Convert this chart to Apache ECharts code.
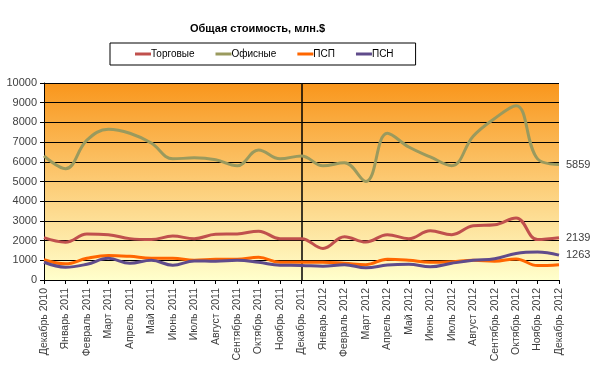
<!DOCTYPE html>
<html><head><meta charset="utf-8">
<script src="https://cdn.jsdelivr.net/npm/echarts@6/dist/echarts.min.js"></script>
<style>html,body{margin:0;padding:0;background:#fff}#c{width:600px;height:368px}</style>
</head><body><div id="c"></div>
<script>
const categories = ['Декабрь 2010','Январь 2011','Февраль 2011','Март 2011','Апрель 2011','Май 2011','Июнь 2011','Июль 2011','Август 2011','Сентябрь 2011','Октябрь 2011','Ноябрь 2011','Декабрь 2011','Январь 2012','Февраль 2012','Март 2012','Апрель 2012','Май 2012','Июнь 2012','Июль 2012','Август 2012','Сентябрь 2012','Октябрь 2012','Ноябрь 2012','Декабрь 2012'];
const torgovye = [2150,1920,2330,2300,2100,2050,2230,2100,2320,2340,2480,2100,2100,1600,2200,1930,2300,2100,2500,2300,2750,2800,3150,2050,2139];
const ofisnye  = [6300,5650,7100,7650,7450,6950,6150,6200,6100,5800,6600,6150,6300,5800,5950,5000,7450,6750,6250,5800,7300,8200,8850,6150,5859];
const psp      = [1030,820,1100,1250,1200,1100,1100,1000,1050,1050,1150,900,900,900,850,780,1050,1000,900,930,1000,950,1070,730,780];
const psn      = [900,650,800,1100,850,1000,750,970,950,1000,900,750,740,700,780,620,760,800,670,850,1000,1080,1350,1420,1263];
const yTicks = [0,1000,2000,3000,4000,5000,6000,7000,8000,9000,10000];
const seriesNames = ['Торговые','Офисные','ПСП','ПСН'];
const colors = ['#C0504D','#9A9A5E','#FF6600','#5F4B8B'];
const font = 'Liberation Sans, Arial, sans-serif';

const chart = echarts.init(document.getElementById('c'));
function mk(name, data, color, endLbl) {
  return {
    name, type: 'line', data, smooth: 0.4, symbol: 'none',
    lineStyle: { width: 3, color }, itemStyle: { color },
    endLabel: { show: endLbl, formatter: p => p.value, color: '#404040', fontSize: 11, fontFamily: font, distance: 7 }
  };
}
chart.setOption({
  animation: false,
  color: colors,
  title: { text: 'Общая стоимость, млн.$', left: 185, top: 18,
    textStyle: { fontSize: 11, fontWeight: 'bold', color: '#000', fontFamily: font } },
  legend: {
    data: seriesNames, left: 110, top: 43,
    borderColor: '#000', borderWidth: 1, backgroundColor: '#fff',
    padding: [6, 22, 6, 25], itemGap: 21, itemWidth: 16, itemHeight: 3, icon: 'rect',
    textStyle: { fontSize: 10, color: '#000', fontFamily: font, padding: [0,0,0,-5] }
  },
  grid: { left: 44, right: 41, top: 83, bottom: 88, show: true, borderWidth: 0,
    backgroundColor: new echarts.graphic.LinearGradient(0,0,0,1,[
      {offset:0,color:'#F9961C'},{offset:1,color:'#FFFFCC'}]) },
  xAxis: {
    type: 'category', data: categories, boundaryGap: false,
    axisLine: { lineStyle: { color: '#000', width: 1 } },
    axisTick: { show: true, length: 4, lineStyle: { color: '#000' }, interval: 0 },
    axisLabel: { rotate: 90, interval: 0, fontSize: 10.5, color: '#404040', fontFamily: font, margin: 8 },
    splitLine: { show: true, interval: (i) => i === 12, lineStyle: { color: '#000', width: 1.5 } }
  },
  yAxis: {
    type: 'value', min: yTicks[0], max: yTicks[yTicks.length-1], interval: 1000,
    axisLine: { show: true, lineStyle: { color: '#000' } },
    axisTick: { show: true, length: 4, lineStyle: { color: '#000' } },
    axisLabel: { fontSize: 11, color: '#404040', fontFamily: font, margin: 7, formatter: v => String(v) },
    splitLine: { show: true, lineStyle: { color: '#000', width: 1 } }
  },
  series: [
    mk(seriesNames[0], torgovye, colors[0], true),
    mk(seriesNames[1], ofisnye, colors[1], true),
    mk(seriesNames[2], psp, colors[2], false),
    mk(seriesNames[3], psn, colors[3], true)
  ]
});
</script></body></html>
